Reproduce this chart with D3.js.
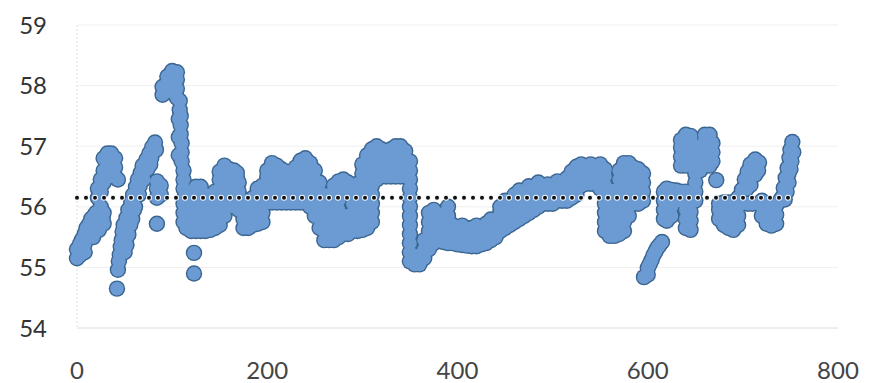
<!DOCTYPE html>
<meta charset="utf-8">
<title>Scatter with mean line</title>
<style>
body {
  margin: 0px;
  background: #fff;
}
svg {
  display: block;
  background-color: #fff;
}
.tick-y, .tick-x {
  font: 24px Lato, "Open Sans", sans-serif;
}
.tick-y { fill: #333; }
.tick-x { fill: #444; }
</style>

<script src="https://cdn.jsdelivr.net/npm/d3@7"></script>

<body>
<script>
var width = 877, height = 383;

// axis ticks
var xTicks = [0, 200, 400, 600, 800];
var yTicks = [54, 55, 56, 57, 58, 59];

// dotted average line
var meanValue = 56.15;
var meanSpan = [0, 748];

// readings: [x, values observed around that x ...]
var readings = [
  [0, 55.15, 55.3], [3, 55.2, 55.38], [5, 55.3, 55.45], [8, 55.25, 55.38, 55.55], [10, 55.5, 55.65],
  [13, 55.58, 55.72], [15, 55.65, 55.8], [17, 55.5], [18, 55.7, 55.85],
  [20, 55.75, 55.9], [22, 56.15, 56.3], [23, 55.62], [25, 55.85, 56.0, 56.25, 56.45], [27, 55.8],
  [28, 55.72, 55.9, 56.4, 56.6, 56.8], [32, 56.55, 56.75, 56.88], [36, 56.5, 56.7, 56.88],
  [40, 56.5, 56.65, 56.8], [43, 56.45],
  [42, 54.65], [43, 54.96], [44, 55.1], [45, 55.21], [46, 55.34], [47, 55.45],
  [48, 55.59], [49, 55.7], [50, 55.25], [51, 55.45], [52, 55.37, 55.82], [53, 55.6],
  [54, 55.54, 55.95], [56, 55.7], [57, 56.08], [58, 55.8], [59, 56.2], [60, 55.95],
  [61, 56.0], [62, 56.33], [63, 56.2], [64, 56.45], [65, 56.2], [66, 56.35],
  [67, 56.56], [68, 56.47], [69, 56.68], [70, 56.45], [71, 56.6], [73, 56.78], [74, 56.62],
  [76, 56.88], [77, 56.7], [78, 56.8], [79, 56.98], [82, 57.06], [83, 56.94],
  [84, 55.72, 56.15, 56.3, 56.42], [88, 56.2, 56.35],
  [90, 57.85, 57.98], [95, 57.9, 58.05, 58.15], [100, 57.95, 58.1, 58.24],
  [105, 57.8, 57.95, 58.1, 58.22], [107, 57.45, 57.15, 56.85], [108, 57.6, 57.75],
  [109, 57.2, 57.35, 57.5], [110, 56.75, 56.9, 57.05],
  [112, 55.75, 55.9, 56.05, 56.3, 56.45, 56.6], [113, 56.15],
  [115, 55.65, 55.8, 55.95, 56.1], [120, 55.6, 55.75, 55.9, 56.05, 56.2],
  [123, 54.9, 55.24],
  [125, 55.6, 55.75, 55.9, 56.05, 56.2, 56.33], [130, 55.6, 55.75, 55.9, 56.05, 56.2, 56.33],
  [135, 55.6, 55.75, 55.9, 56.05, 56.2], [140, 55.62, 55.77, 55.92, 56.05],
  [145, 55.65, 55.8, 55.95, 56.1, 56.25], [150, 55.7, 55.85, 56.0, 56.15, 56.3, 56.45, 56.58],
  [155, 55.85, 56.0, 56.15, 56.3, 56.45, 56.6, 56.68], [160, 56.05, 56.2, 56.35, 56.5, 56.62],
  [165, 56.0, 56.15, 56.3, 56.45, 56.6], [168, 56.2, 56.35, 56.5, 56.56],
  [170, 55.95, 56.1, 56.25, 56.4], [175, 55.65, 55.8, 55.95, 56.1],
  [180, 55.65, 55.8, 55.95, 56.1], [185, 55.7, 55.85, 56.0, 56.15],
  [190, 55.72, 55.87, 56.02, 56.17, 56.3], [195, 55.75, 55.9, 56.05, 56.2, 56.35],
  [200, 56.07, 56.2, 56.35, 56.5, 56.6], [205, 56.07, 56.2, 56.35, 56.5, 56.65, 56.72],
  [210, 56.07, 56.2, 56.35, 56.5, 56.65, 56.68], [215, 56.07, 56.2, 56.35, 56.5, 56.62],
  [220, 56.07, 56.2, 56.35, 56.5, 56.58], [225, 56.07, 56.2, 56.35, 56.5, 56.52],
  [230, 56.07, 56.2, 56.35, 56.5, 56.65], [235, 56.07, 56.2, 56.35, 56.5, 56.65, 56.76],
  [240, 56.07, 56.2, 56.35, 56.5, 56.65, 56.8], [245, 56.0, 56.15, 56.3, 56.45, 56.6, 56.72],
  [250, 55.85, 56.0, 56.15, 56.3, 56.45, 56.6], [255, 55.65, 55.8, 55.95, 56.1, 56.25, 56.4],
  [260, 55.45, 55.6, 55.75, 55.9, 56.05, 56.17], [265, 55.45, 55.6, 55.75, 55.9, 56.05, 56.2],
  [270, 55.45, 55.6, 55.75, 55.9, 56.05, 56.2, 56.35],
  [275, 55.5, 55.65, 55.8, 55.95, 56.1, 56.25, 56.42],
  [280, 55.55, 55.7, 55.85, 56.25, 56.45], [285, 55.55, 55.7, 55.85, 56.25, 56.4],
  [290, 55.6, 55.75, 55.9, 56.05, 56.2, 56.35], [295, 55.6, 55.75, 55.9, 56.05, 56.2, 56.38],
  [300, 55.62, 55.77, 55.92, 56.07, 56.22, 56.37, 56.55, 56.7],
  [305, 55.65, 55.8, 55.95, 56.1, 56.25, 56.4, 56.55, 56.7, 56.85],
  [310, 55.75, 55.9, 56.05, 56.2, 56.35, 56.5, 56.65, 56.8, 56.95],
  [315, 56.45, 56.6, 56.75, 56.9, 57.0], [320, 56.5, 56.65, 56.8, 56.95],
  [325, 56.5, 56.65, 56.8, 56.86], [330, 56.5, 56.65, 56.8, 56.95],
  [335, 56.5, 56.65, 56.8, 56.95, 57.0], [340, 56.5, 56.65, 56.8, 56.95, 57.0],
  [345, 56.5, 56.65, 56.8, 56.92],
  [350, 55.1, 55.25, 55.4, 55.55, 55.7, 55.85, 56.0, 56.15, 56.3, 56.45, 56.6, 56.75],
  [355, 55.05, 55.15], [360, 55.05, 55.2], [365, 55.15, 55.3, 55.45],
  [370, 55.3, 55.45, 55.6, 55.75, 55.9], [375, 55.4, 55.55, 55.7, 55.85, 55.95],
  [380, 55.45, 55.6, 55.75, 55.88], [385, 55.42, 55.57, 55.72, 55.82],
  [390, 55.4, 55.55, 55.7, 55.85, 56.0], [395, 55.4, 55.55, 55.7],
  [400, 55.38, 55.53, 55.66], [405, 55.37, 55.52, 55.69], [410, 55.36, 55.51, 55.64],
  [415, 55.35, 55.5, 55.65], [420, 55.35, 55.5, 55.69], [425, 55.38, 55.53, 55.66],
  [430, 55.4, 55.55, 55.72], [435, 55.45, 55.6, 55.79], [440, 55.5, 55.65, 55.78],
  [445, 55.6, 55.75, 55.9, 56.0], [450, 55.65, 55.8, 55.95, 56.1],
  [455, 55.7, 55.85, 56.0, 56.08], [460, 55.75, 55.9, 56.05, 56.2],
  [465, 55.8, 55.95, 56.1, 56.27], [470, 55.85, 56.0, 56.15, 56.24],
  [475, 55.9, 56.05, 56.2, 56.34], [480, 55.95, 56.1, 56.25, 56.32],
  [485, 56.0, 56.15, 56.3, 56.4], [490, 56.05, 56.2, 56.33], [495, 56.05, 56.2, 56.37],
  [500, 56.05, 56.2, 56.32], [505, 56.1, 56.25, 56.42], [510, 56.1, 56.25, 56.4],
  [515, 56.1, 56.25, 56.47], [520, 56.15, 56.3, 56.45, 56.58], [525, 56.2, 56.35, 56.5, 56.66],
  [530, 56.35, 56.5, 56.65, 56.7], [535, 56.38, 56.53, 56.66], [540, 56.38, 56.53, 56.7],
  [545, 56.38, 56.53, 56.64], [550, 56.3, 56.45, 56.6, 56.7],
  [555, 55.6, 55.75, 55.9, 56.05, 56.2, 56.35, 56.5, 56.62],
  [560, 55.52, 55.67, 55.82, 55.97, 56.12, 56.27], [565, 55.52, 55.67, 55.82, 55.97, 56.12, 56.27],
  [570, 55.55, 55.7, 55.85, 56.0, 56.15, 56.3, 56.45, 56.6],
  [575, 55.6, 55.75, 55.9, 56.05, 56.2, 56.35, 56.5, 56.65, 56.72],
  [580, 55.85, 56.0, 56.15, 56.3, 56.45, 56.6, 56.72],
  [585, 56.05, 56.2, 56.35, 56.5, 56.65], [590, 56.05, 56.2, 56.35, 56.5, 56.62],
  [595, 56.1, 56.25, 56.4, 56.55],
  [596, 54.84], [600, 54.88, 54.99], [602, 55.05], [604, 55.12], [606, 55.2], [608, 55.26],
  [610, 55.32], [612, 55.36], [615, 55.42],
  [617, 55.8, 55.95, 56.1, 56.25], [620, 55.77, 55.92, 56.07, 56.22, 56.3],
  [625, 55.85, 56.0, 56.15, 56.28], [630, 56.12, 56.27],
  [635, 56.1, 56.25, 56.68, 56.83, 56.98, 57.1],
  [640, 55.65, 55.8, 55.95, 56.1, 56.25, 56.68, 56.83, 56.98, 57.12, 57.19],
  [645, 55.62, 55.77, 55.92, 56.07, 56.22, 56.68, 56.83, 56.98, 57.12, 57.17],
  [650, 56.1, 56.25, 56.4, 56.55, 56.68, 56.83, 56.98], [655, 56.6, 56.75, 56.9, 57.0],
  [660, 56.68, 56.83, 56.98, 57.1, 57.19], [665, 56.68, 56.83, 56.98, 57.12, 57.19],
  [668, 56.75, 56.9, 57.05], [672, 56.44],
  [675, 55.8, 55.95, 56.05], [680, 55.7, 55.85, 56.0, 56.07], [685, 55.65, 55.8, 55.95, 56.07],
  [690, 55.62, 55.77, 55.92, 56.07], [695, 55.7, 55.85, 56.0, 56.15],
  [699, 56.28], [702, 56.45], [704, 56.3], [705, 56.05, 56.58], [707, 56.5],
  [708, 56.36, 56.7], [710, 56.05], [711, 56.65],
  [713, 56.53, 56.78], [716, 56.6], [717, 56.73],
  [720, 55.85, 56.0, 56.1], [725, 55.72, 55.87, 56.02], [730, 55.69, 55.84, 55.99],
  [735, 55.72, 55.87, 56.02],
  [739, 56.1], [741, 56.15], [743, 56.31], [744, 56.12], [745, 56.48], [746, 56.25],
  [747, 56.64], [748, 56.4, 56.55], [749, 56.81], [750, 56.94, 56.62], [751, 56.75],
  [752, 57.07], [753, 56.9]
];

var points = [];
readings.forEach(function(r) {
  r.slice(1).forEach(function(v) { points.push([r[0], v]); });
});

var svg = d3.select("body").append("svg")
    .attr("width", width)
    .attr("height", height);

var x = d3.scaleLinear().domain([0, 800]).range([77, 838]);
var y = d3.scaleLinear().domain([54, 59]).range([328, 25]);

// faint gridlines
svg.append("g").selectAll("line")
    .data(yTicks)
  .enter().append("line")
    .attr("x1", x(0))
    .attr("x2", x(800))
    .attr("y1", function(d) { return y(d); })
    .attr("y2", function(d) { return y(d); })
    .attr("stroke", function(d) { return d === 54 ? "#dcdcdc" : "#efefef"; })
    .attr("stroke-width", 1);

svg.append("line")
    .attr("x1", x(0)).attr("x2", x(0))
    .attr("y1", y(59)).attr("y2", y(54))
    .attr("stroke", "#e2e2e2")
    .attr("stroke-dasharray", "2 2");

// tick labels
svg.append("g").selectAll("text")
    .data(yTicks)
  .enter().append("text")
    .attr("class", "tick-y")
    .attr("x", 47)
    .attr("y", function(d) { return y(d); })
    .attr("dy", "0.36em")
    .style("text-anchor", "end")
    .text(function(d) { return d; });

svg.append("g").selectAll("text")
    .data(xTicks)
  .enter().append("text")
    .attr("class", "tick-x")
    .attr("x", function(d) { return x(d); })
    .attr("y", 379)
    .style("text-anchor", "middle")
    .text(function(d) { return d; });

// markers: outline layer underneath, fill layer on top
var marks = svg.append("g");
marks.selectAll("circle.edge")
    .data(points)
  .enter().append("circle")
    .attr("class", "edge")
    .attr("cx", function(d) { return x(d[0]); })
    .attr("cy", function(d) { return y(d[1]); })
    .attr("r", 8.2)
    .attr("fill", "#3b6591");
marks.selectAll("circle.dot")
    .data(points)
  .enter().append("circle")
    .attr("class", "dot")
    .attr("cx", function(d) { return x(d[0]); })
    .attr("cy", function(d) { return y(d[1]); })
    .attr("r", 6.8)
    .attr("fill", "#6b9bd2");

// dotted mean line
var mean = svg.append("g");
mean.append("line")
    .attr("x1", x(meanSpan[0])).attr("x2", x(meanSpan[1]))
    .attr("y1", y(meanValue)).attr("y2", y(meanValue))
    .attr("stroke", "#f4f7fb")
    .attr("stroke-width", 6)
    .attr("stroke-linecap", "round")
    .attr("stroke-dasharray", "0 9");
mean.append("line")
    .attr("x1", x(meanSpan[0])).attr("x2", x(meanSpan[1]))
    .attr("y1", y(meanValue)).attr("y2", y(meanValue))
    .attr("stroke", "#111")
    .attr("stroke-width", 4)
    .attr("stroke-linecap", "round")
    .attr("stroke-dasharray", "0 9");
</script>
